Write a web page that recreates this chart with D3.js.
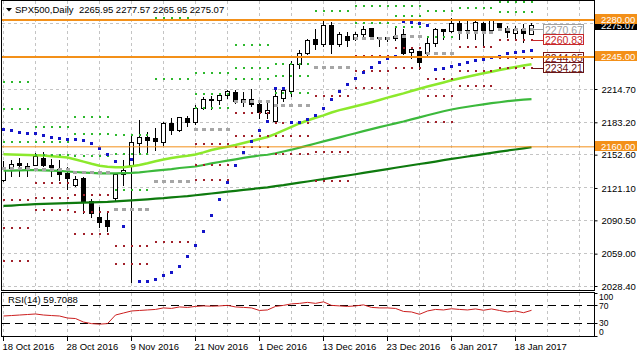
<!DOCTYPE html>
<html><head><meta charset="utf-8">
<script src="https://cdn.jsdelivr.net/npm/d3@7"></script>
<style>
html,body{margin:0;padding:0;background:#fff;overflow:hidden}
svg{display:block}
text{font-family:"Liberation Sans",Arial,sans-serif;white-space:pre}
</style>
</head><body>
<svg id="c" width="637" height="358"></svg>
<script>
// ---------------- DATA ----------------
const dates = ["2016-10-18","2016-10-19","2016-10-20","2016-10-21","2016-10-24","2016-10-25","2016-10-26","2016-10-27","2016-10-28","2016-10-31",
"2016-11-01","2016-11-02","2016-11-03","2016-11-04","2016-11-07","2016-11-08","2016-11-09","2016-11-10","2016-11-11","2016-11-14",
"2016-11-15","2016-11-16","2016-11-17","2016-11-18","2016-11-21","2016-11-22","2016-11-23","2016-11-24","2016-11-25","2016-11-28",
"2016-11-29","2016-11-30","2016-12-01","2016-12-02","2016-12-05","2016-12-06","2016-12-07","2016-12-08","2016-12-09","2016-12-12",
"2016-12-13","2016-12-14","2016-12-15","2016-12-16","2016-12-19","2016-12-20","2016-12-21","2016-12-22","2016-12-23","2016-12-27",
"2016-12-28","2016-12-29","2016-12-30","2017-01-03","2017-01-04","2017-01-05","2017-01-06","2017-01-09","2017-01-10","2017-01-11",
"2017-01-12","2017-01-13","2017-01-16","2017-01-17","2017-01-18","2017-01-19","2017-01-20"];

const open  = [2128.6,2139.7,2143.8,2141.2,2142.8,2149.2,2141.9,2138.8,2135.0,2123.3,2130.3,2108.1,2093.4,2090.2,2111.3,2134.3,2142.8,2163.3,2169.0,2168.1,
2163.9,2182.3,2175.3,2187.0,2182.8,2196.4,2204.3,2203.6,2209.0,2211.2,2201.8,2205.0,2200.2,2192.0,2183.8,2205.9,2212.2,2237.4,2248.5,2261.7,
2257.0,2274.3,2257.0,2264.8,2261.7,2265.8,2272.1,2263.2,2261.7,2262.6,2265.8,2249.0,2250.0,2248.5,2257.9,2271.2,2268.9,2276.8,2270.2,2269.8,
2276.8,2269.8,2276.2,2272.1,2267.4,2271.2,2265.95];
const high  = [2146.9,2148.2,2150.1,2145.0,2154.5,2155.4,2149.2,2148.2,2141.2,2132.5,2131.8,2111.3,2103.4,2098.7,2135.0,2148.2,2171.2,2185.4,2174.3,2178.5,
2183.8,2188.0,2188.5,2190.1,2199.6,2207.4,2209.0,2211.2,2213.8,2213.8,2212.2,2215.4,2202.7,2202.7,2216.9,2215.4,2242.1,2252.3,2262.6,2272.1,
2279.3,2278.3,2268.9,2268.9,2268.9,2274.3,2273.1,2263.6,2264.8,2273.1,2272.1,2254.7,2250.9,2264.2,2273.1,2272.1,2282.5,2279.3,2279.3,2279.3,
2278.3,2279.9,2276.8,2275.2,2274.3,2276.2,2277.57];
const low   = [2127.0,2131.8,2131.8,2131.8,2141.9,2141.2,2131.8,2128.6,2119.2,2122.5,2097.1,2093.4,2083.9,2079.8,2108.1,2123.6,2031.5,2152.3,2152.3,2156.3,
2161.7,2171.2,2174.3,2179.0,2181.6,2194.9,2194.9,2199.6,2205.9,2201.2,2198.0,2198.0,2187.0,2187.0,2182.3,2202.7,2207.4,2234.3,2247.5,2252.3,
2254.7,2248.5,2254.7,2254.7,2261.0,2264.8,2263.6,2254.7,2259.4,2261.0,2246.9,2243.7,2232.7,2245.9,2254.7,2261.7,2267.9,2261.7,2262.6,2261.7,
2254.7,2267.4,2272.4,2263.6,2261.7,2258.5,2265.95];
const close = [2138.8,2143.5,2141.9,2139.3,2151.3,2141.9,2140.0,2134.0,2130.3,2129.3,2108.1,2097.1,2088.3,2084.5,2133.4,2137.2,2163.9,2169.0,2165.8,2164.9,
2182.3,2175.3,2188.0,2182.8,2196.4,2205.0,2204.0,2209.0,2212.8,2202.7,2205.0,2200.2,2192.3,2193.9,2207.4,2213.1,2238.1,2248.5,2261.0,2257.0,
2274.3,2257.0,2265.8,2260.1,2265.8,2271.2,2264.2,2262.6,2263.2,2264.8,2248.5,2251.6,2239.6,2257.9,2270.5,2268.9,2276.8,2269.8,2269.8,2277.4,
2269.8,2279.3,2273.1,2267.9,2271.2,2267.4,2275.07];

// moving averages (light green / lime / dark green)
const maFast = [2153.0,2152.8,2152.6,2152.3,2152.1,2151.7,2151.2,2150.6,2149.9,2148.0,2146.0,2144.0,2142.2,2141.1,2140.7,2140.8,2141.6,2142.8,2144.5,2146.4,
2148.0,2149.5,2150.6,2151.5,2152.8,2154.8,2157.0,2158.7,2160.1,2161.7,2163.6,2165.5,2167.4,2169.3,2172.2,2175.5,2178.8,2182.1,2184.9,2187.5,
2189.8,2192.5,2194.7,2196.5,2198.4,2200.2,2202.2,2204.3,2206.5,2208.6,2210.6,2212.8,2215.0,2217.1,2219.0,2220.9,2222.9,2224.6,2226.3,2227.9,
2229.6,2231.1,2232.7,2234.1,2235.5,2236.9,2238.1];
const maMid = [2137.4,2137.6,2137.8,2137.9,2138.0,2137.8,2137.5,2137.2,2136.7,2136.2,2135.7,2135.3,2135.0,2134.9,2135.0,2135.2,2135.3,2135.9,2136.7,2137.5,
2138.3,2139.0,2140.0,2140.7,2141.4,2142.8,2144.3,2145.7,2146.9,2148.2,2149.5,2150.7,2151.8,2152.5,2153.9,2155.6,2157.3,2159.2,2161.2,2163.2,
2165.2,2167.1,2169.0,2171.0,2172.9,2174.9,2176.8,2178.6,2180.4,2182.2,2184.0,2186.0,2187.9,2189.9,2191.8,2193.7,2195.3,2196.7,2197.9,2199.1,
2200.2,2201.3,2202.2,2203.2,2204.0,2204.6,2205.1];
const maSlow = [2104.1,2104.5,2105.0,2105.4,2105.8,2106.0,2106.3,2106.6,2106.8,2107.0,2107.2,2107.4,2107.7,2108.0,2108.5,2108.9,2109.3,2109.8,2110.4,2111.0,
2111.5,2112.2,2112.8,2113.4,2114.2,2115.0,2115.9,2116.7,2117.6,2118.4,2119.3,2120.1,2120.9,2121.7,2122.8,2123.8,2125.0,2126.1,2127.2,2128.4,
2129.5,2130.6,2131.8,2132.9,2134.1,2135.3,2136.5,2137.7,2139.0,2140.2,2141.4,2142.6,2143.8,2144.9,2146.1,2147.4,2148.6,2149.7,2150.9,2152.0,
2153.1,2154.3,2155.4,2156.5,2157.5,2158.6,2159.7];

// parabolic SAR
const sar = [2176.6,2175.3,2173.8,2172.8,2172.2,2170.5,2169.0,2168.1,2167.1,2166.5,2165.8,2162.7,2158.0,2153.2,2146.6,2084.2,2148.2,2032.2,2032.2,2035.0,
2038.8,2041.6,2047.3,2056.1,2066.5,2079.5,2094.6,2110.4,2126.1,2141.9,2154.8,2165.5,2175.9,2183.8,2215.4,2215.4,2182.6,2182.8,2186.1,2190.1,
2196.5,2205.0,2212.2,2218.5,2224.8,2230.1,2235.2,2239.6,2243.1,2245.9,2278.4,2277.4,2276.5,2274.3,2233.3,2234.3,2235.8,2238.1,2240.0,2241.2,
2242.8,2244.3,2245.7,2247.8,2249.0,2250.0,2250.9];

// RSI(14)
const rsi = [46.5,47.6,48.8,50.0,51.2,48.8,47.6,46.5,41.8,40.6,32.4,28.8,27.6,28.8,48.8,53.5,58.2,59.4,60.6,61.8,
65.3,64.1,67.6,66.5,68.8,70.0,69.3,70.0,71.2,67.6,66.5,65.3,59.4,60.6,68.8,71.2,74.7,75.9,78.2,75.9,
79.4,71.2,70.0,68.8,70.0,72.4,66.5,65.3,65.3,64.1,57.1,55.9,50.5,58.2,61.8,60.6,63.4,61.8,60.6,62.9,
59.9,62.9,59.4,55.9,58.2,54.2,59.7088];

// weekly pivot levels (one entry per week)
const weekStart = [0,4,9,14,19,24,29,34,39,44,49,53,57,62];
const weekEnd   = [3,8,13,18,23,28,33,38,43,48,52,56,61,66];
const pivR3 = [2221.3,2178.5,2188.2,2171.2,2377.4,2230.2,2255.9,2238.8,2368.8,2307.7,2293.0,2304.6,2327.5,2314.07];
const pivR2 = [2195.8,2164.3,2172.1,2152.8,2281.5,2210.2,2234.9,2227.1,2315.7,2293.5,2283.6,2288.9,2305.0,2297.29];
const pivR1 = [2164.9,2152.3,2151.8,2119.2,2223.7,2196.5,2223.8,2210.5,2288.4,2276.8,2273.4,2264.3,2290.9,2287.45];
const pivP  = [2139.7,2138.1,2135.3,2100.7,2127.6,2176.4,2202.7,2198.7,2235.3,2262.6,2264.1,2248.5,2268.4,2270.67];
const pivS1 = [2109.7,2126.1,2114.5,2066.7,2069.8,2162.7,2191.6,2182.1,2208.0,2246.0,2253.9,2223.9,2254.3,2260.83];
const pivS2 = [2083.5,2111.9,2098.4,2049.2,1973.7,2142.6,2170.5,2170.3,2154.9,2231.8,2244.5,2208.1,2231.8,2244.05];
const pivS3 = [2052.0,2099.9,2077.6,2015.2,1915.9,2128.9,2159.5,2153.7,2127.6,2215.2,2234.3,2183.5,2217.7,2234.21];

const gridTicks = [2028.40,2059.00,2090.50,2121.10,2152.60,2183.20,2214.70,2245.30,2276.80];
const priceTicks = [2028.40,2059.00,2090.50,2121.10,2152.60,2183.20,2214.70];
const hLines = [2280.00,2245.00,2160.00];
const levelLabels = [2270.67,2260.83,2244.05,2234.21];
const lastPrice = 2275.07;
const dateTickDates = ["2016-10-18","2016-10-28","2016-11-09","2016-11-21","2016-12-01","2016-12-13","2016-12-23","2017-01-06","2017-01-18"];
const dateTickLabels = ["18 Oct 2016","28 Oct 2016","9 Nov 2016","21 Nov 2016","1 Dec 2016","13 Dec 2016","23 Dec 2016","6 Jan 2017","18 Jan 2017"];
const rsiLevels = [70,30];
const rsiTicks = [100,70,30,0];
const title = "SPX500,Daily  2265.95 2277.57 2265.95 2275.07";
const rsiTitle = "RSI(14) 59.7088";

// ---------------- DRAW ----------------
const svg = d3.select("#c");
const FS = 9.5;
const ORANGE = "#F39019";
const x = d3.scaleLinear().domain([0, dates.length - 1]).range([3.5, 531.5]);
const xd = d => x(dates.indexOf(d));
const y = d3.scaleLinear().domain([2028.4, 2214.7]).range([286, 89]);
const yr = d3.scaleLinear().domain([0, 100]).range([336, 293]);
const px = v => Math.round(v - 0.5) + 0.5;

const defs = svg.append("defs");
defs.append("clipPath").attr("id", "cm").append("rect").attr("x", 2).attr("y", 1).attr("width", 592).attr("height", 289.5);
defs.append("clipPath").attr("id", "cr").append("rect").attr("x", 2).attr("y", 293).attr("width", 592).attr("height", 43);

// grid
const grid = svg.append("g").attr("stroke", "#c4c4c4").attr("stroke-dasharray", "3,3").attr("shape-rendering", "crispEdges");
d3.range(0, 73, 4).forEach(i => {
  grid.append("line").attr("x1", x(i)).attr("x2", x(i)).attr("y1", 1).attr("y2", 290);
  grid.append("line").attr("x1", x(i)).attr("x2", x(i)).attr("y1", 293).attr("y2", 336);
});
gridTicks.forEach(t => grid.append("line").attr("x1", 2).attr("x2", 594).attr("y1", px(y(t))).attr("y2", px(y(t))));

const gm = svg.append("g").attr("clip-path", "url(#cm)");

// candles
const cg = gm.append("g").attr("shape-rendering", "crispEdges");
dates.forEach((d, i) => {
  const xc = x(i);
  cg.append("line").attr("x1", xc).attr("x2", xc).attr("y1", px(y(high[i]))).attr("y2", px(y(low[i]))).attr("stroke", "#000");
  const top = px(y(Math.max(open[i], close[i]))), bot = px(y(Math.min(open[i], close[i])));
  const bull = close[i] >= open[i];
  if (bot - top < 1) {
    cg.append("line").attr("x1", xc - 2.5).attr("x2", xc + 2.5).attr("y1", top).attr("y2", top).attr("stroke", "#000");
  } else {
    cg.append("rect").attr("x", xc - 2).attr("y", top).attr("width", 4).attr("height", bot - top)
      .attr("fill", bull ? "#fff" : "#000").attr("stroke", "#000");
  }
});

// moving averages
const line = d3.line().x((d, i) => x(i)).y(d => y(d));
gm.append("path").datum(maSlow).attr("d", line).attr("fill", "none").attr("stroke", "#0E7A0E").attr("stroke-width", 2.2);
gm.append("path").datum(maMid).attr("d", line).attr("fill", "none").attr("stroke", "#3CB93C").attr("stroke-width", 2.2);
gm.append("path").datum(maFast).attr("d", line).attr("fill", "none").attr("stroke", "#8CE92C").attr("stroke-width", 2.5);

// pivots
const pg = gm.append("g").attr("shape-rendering", "crispEdges");
const pivSets = [
  {v: pivR3, c: "#2DB82D", w: 2, h: 2}, {v: pivR2, c: "#2DB82D", w: 2, h: 2}, {v: pivR1, c: "#2DB82D", w: 2, h: 2},
  {v: pivP, c: "#A6A6A6", w: 4, h: 3},
  {v: pivS1, c: "#A0202A", w: 2, h: 2}, {v: pivS2, c: "#A0202A", w: 2, h: 2}, {v: pivS3, c: "#A0202A", w: 2, h: 2}
];
pivSets.forEach(s => {
  weekStart.forEach((ws, w) => {
    for (let i = ws; i <= weekEnd[w]; i++) {
      pg.append("rect").attr("x", Math.round(x(i) - s.w / 2)).attr("y", Math.round(y(s.v[w]) - s.h / 2))
        .attr("width", s.w).attr("height", s.h).attr("fill", s.c);
    }
  });
});

// SAR
const sg = gm.append("g").attr("shape-rendering", "crispEdges");
sar.forEach((v, i) => sg.append("rect").attr("x", Math.round(x(i) - 1.5)).attr("y", Math.round(y(v) - 1.5))
  .attr("width", 3).attr("height", 3).attr("fill", "#1414C8"));

// pivot level labels (drawn under the orange lines)
const lvlColors = ["#A0A0A0", "#C8282A", "#7A1212", "#6A1616"];
levelLabels.forEach((v, k) => {
  const yy = px(y(v));
  svg.append("line").attr("x1", x(dates.length - 1)).attr("x2", 543).attr("y1", yy).attr("y2", yy)
    .attr("stroke", lvlColors[k]).attr("shape-rendering", "crispEdges");
  svg.append("rect").attr("x", 543.5).attr("y", Math.round(y(v)) - 5.5).attr("width", 40).attr("height", 10)
    .attr("fill", "#fff").attr("stroke", lvlColors[k]).attr("shape-rendering", "crispEdges");
  svg.append("text").attr("x", 545).attr("y", Math.round(y(v)) + 3.5).attr("font-size", 10.5)
    .attr("fill", lvlColors[k]).text(d3.format(".2f")(v));
});

// horizontal orange lines
const hw = [2, 2, 1];
hLines.forEach((v, k) => svg.append("line").attr("x1", 2).attr("x2", 594).attr("y1", y(v)).attr("y2", y(v))
  .attr("stroke", ORANGE).attr("stroke-width", hw[k]));

// panel borders
const bg = svg.append("g").attr("fill", "none").attr("stroke", "#000").attr("shape-rendering", "crispEdges");
bg.append("rect").attr("x", 1.5).attr("y", 0.5).attr("width", 593).attr("height", 290);
bg.append("rect").attr("x", 1.5).attr("y", 292.5).attr("width", 593).attr("height", 44);

// price axis
const ax = svg.append("g").attr("transform", "translate(594.5,0)")
  .call(d3.axisRight(y).tickValues(priceTicks).tickSize(3).tickPadding(4).tickFormat(d3.format(".2f")));
ax.select(".domain").remove();
ax.selectAll("text").attr("font-size", FS).attr("font-family", "Liberation Sans, Arial, sans-serif").attr("fill", "#000");
ax.selectAll("line").attr("stroke", "#000");

// last price box (partly covered by the 2280 box, as in the source)
const ly = Math.round(y(lastPrice));
svg.append("rect").attr("x", 595).attr("y", ly - 5).attr("width", 42).attr("height", 10).attr("fill", "#000");
svg.append("text").attr("x", 601).attr("y", ly + 3.5).attr("font-size", FS).attr("fill", "#fff").text(d3.format(".2f")(lastPrice));

// orange price boxes
hLines.forEach(v => {
  const yy = Math.round(y(v));
  svg.append("rect").attr("x", 595).attr("y", yy - 6).attr("width", 42).attr("height", 10).attr("fill", ORANGE);
  svg.append("text").attr("x", 601).attr("y", yy + 2.5).attr("font-size", FS).attr("fill", "#fff").text(d3.format(".2f")(v));
});

// RSI panel
const gr = svg.append("g").attr("clip-path", "url(#cr)");
rsiLevels.forEach(l => gr.append("line").attr("x1", 2).attr("x2", 594).attr("y1", px(yr(l))).attr("y2", px(yr(l)))
  .attr("stroke", "#000").attr("stroke-dasharray", "8,5").attr("shape-rendering", "crispEdges"));
const rline = d3.line().x((d, i) => x(i)).y(d => yr(d));
gr.append("path").datum(rsi).attr("d", rline).attr("fill", "none").attr("stroke", "#CC1F1F").attr("stroke-width", 1);
svg.append("text").attr("x", 8).attr("y", 303).attr("font-size", FS).attr("fill", "#000").text(rsiTitle);
rsiTicks.forEach(t => {
  const yy = Math.min(Math.max(yr(t), 297), 332);
  svg.append("line").attr("x1", 594.5).attr("x2", 597.5).attr("y1", px(yr(t))).attr("y2", px(yr(t))).attr("stroke", "#000");
  svg.append("text").attr("x", 599).attr("y", yy + 3).attr("font-size", 8.5).attr("fill", "#000").text(t);
});

// date axis
dateTickDates.forEach((d, k) => {
  const xx = xd(d);
  svg.append("line").attr("x1", xx).attr("x2", xx).attr("y1", 337).attr("y2", 341).attr("stroke", "#000").attr("shape-rendering", "crispEdges");
  svg.append("text").attr("x", xx - 1).attr("y", 350).attr("font-size", FS).attr("fill", "#000").text(dateTickLabels[k]);
});

// title
svg.append("path").attr("d", "M6,8 L12,8 L9,11.5 Z").attr("fill", "#000");
svg.append("text").attr("x", 15).attr("y", 12.5).attr("font-size", FS).attr("fill", "#000").text(title);
</script>
</body></html>
